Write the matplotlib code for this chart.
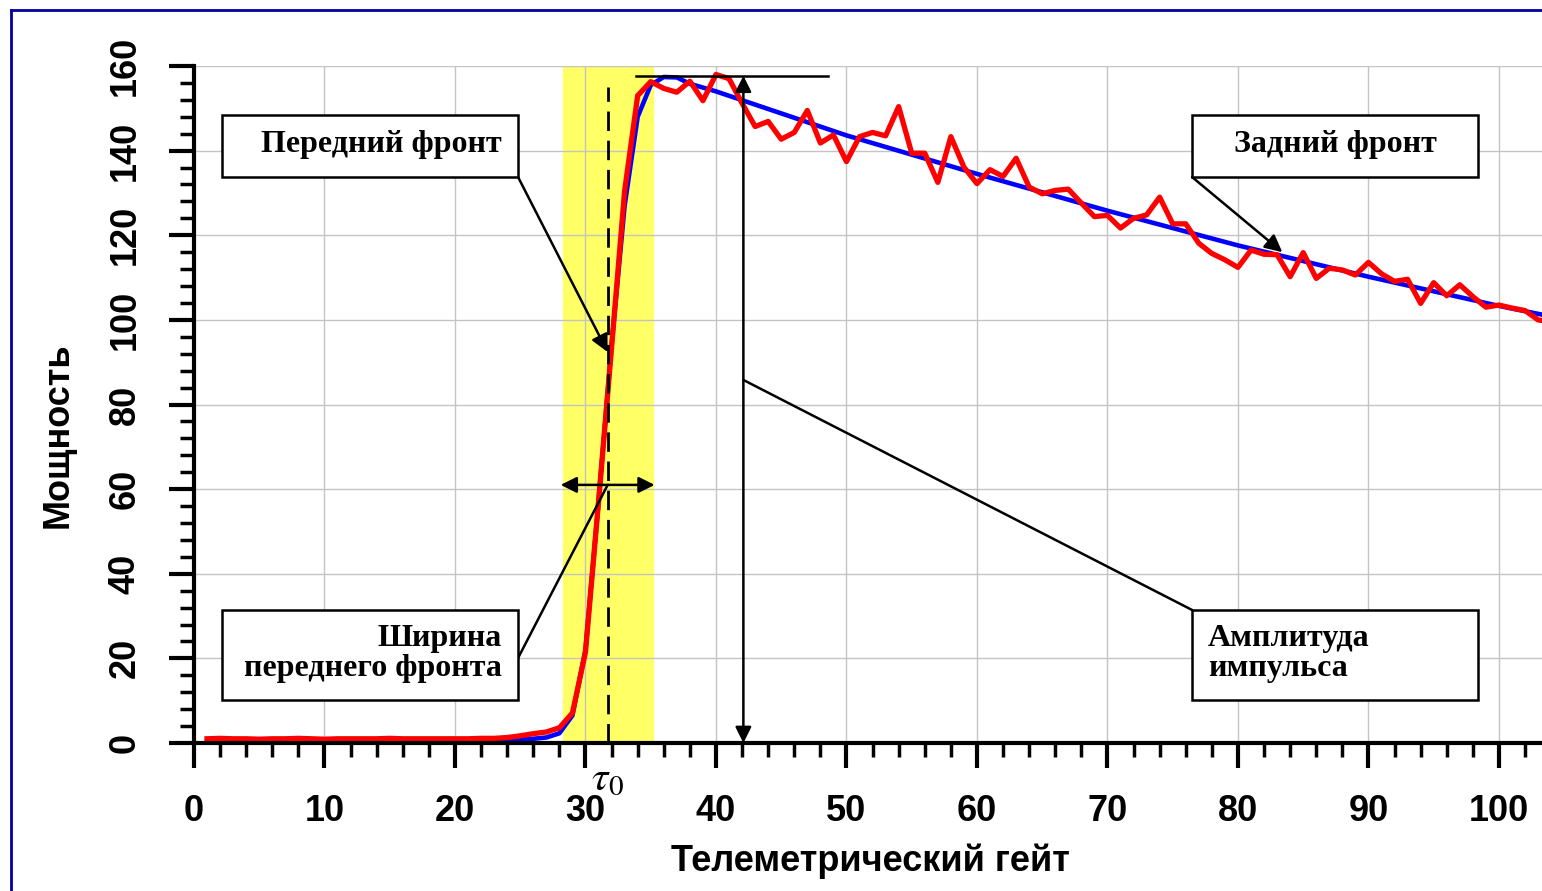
import matplotlib.pyplot as plt
from matplotlib.patches import Rectangle
from matplotlib.lines import Line2D
from matplotlib.ticker import MultipleLocator

# measured pulse (red), gates 1..104
gates = list(range(1, 105))
power = [1.0, 1.1, 1.0, 1.0, 0.9, 1.0, 1.0, 1.1, 1.0, 0.9,
         1.0, 1.0, 1.0, 1.0, 1.1, 1.0, 1.0, 1.0, 1.0, 1.0,
         1.0, 1.1, 1.1, 1.3, 1.7, 2.2, 2.6, 3.6, 7.1, 21.5,
         57.0, 93.5, 130.5, 153.0, 156.3, 154.7, 153.8, 156.4, 151.8, 158.0,
         157.0, 151.2, 145.7, 146.9, 142.7, 144.3, 149.5, 141.8, 143.7, 137.4,
         143.3, 144.3, 143.5, 150.4, 139.4, 139.4, 132.5, 143.3, 136.1, 132.2,
         135.5, 133.9, 138.2, 131.4, 129.8, 130.6, 130.9, 127.6, 124.4, 124.7,
         121.7, 124.0, 124.8, 129.0, 122.7, 122.7, 118.1, 115.7, 114.2, 112.4,
         116.5, 115.5, 115.4, 110.2, 115.9, 109.8, 112.2, 111.8, 110.6, 113.6,
         110.9, 109.1, 109.6, 103.9, 108.8, 105.7, 108.3, 105.5, 103.0, 103.5,
         102.8, 102.2, 100.0, 99.5]

# model pulse (blue)
model_x = [1, 23, 24, 25, 26, 27, 28, 29, 30, 31, 32, 33, 34, 35, 36, 37, 38,
           40, 50, 60, 70, 80, 90, 100, 104]
model_y = [0.5, 0.5, 0.6, 0.8, 1.0, 1.3, 2.3, 6.5, 22.0, 57.0, 94.0, 127.0,
           148.0, 155.5, 157.4, 157.3, 155.8, 154.0, 143.6, 134.5, 125.8,
           117.6, 110.2, 103.3, 100.8]

front_band = (28.3, 35.2)
tau0 = 31.7
peak_level = 157.7
amp_x = 42.1
width_y = 61.0

fig = plt.figure(figsize=(15.42, 8.91), dpi=100)
ax = fig.add_axes([194 / 1542, 1 - 743 / 891, 1348 / 1542, 677 / 891])

ax.axvspan(front_band[0], front_band[1], color='#ffff66', zorder=0)
ax.plot(model_x, model_y, color='#0000ff', lw=3.3, zorder=3)
ax.plot(gates, power, color='#ff0000', lw=3.8, zorder=4)

ax.set_xlim(0, 103.3)
ax.set_ylim(0, 160)
ax.xaxis.set_major_locator(MultipleLocator(10))
ax.xaxis.set_minor_locator(MultipleLocator(2))
ax.yaxis.set_major_locator(MultipleLocator(20))
ax.yaxis.set_minor_locator(MultipleLocator(4))
ax.grid(True, which='major', color='#c4c4c4', lw=1.0, zorder=1)
ax.set_axisbelow(True)

for s in ['top', 'right']:
    ax.spines[s].set_visible(False)
for s in ['left', 'bottom']:
    ax.spines[s].set_linewidth(3)
    ax.spines[s].set_zorder(6)

ax.tick_params(which='major', direction='out', length=18, width=3, pad=19)
ax.tick_params(which='minor', direction='out', length=10, width=2.5)
ax.tick_params(axis='y', labelrotation=90)
for lab in ax.get_xticklabels() + ax.get_yticklabels():
    lab.set_fontfamily('Liberation Sans')
    lab.set_fontweight('bold')
    lab.set_fontsize(26)
for lab in ax.get_yticklabels():
    lab.set_verticalalignment('center')

ax.set_xlabel('Телеметрический гейт', fontfamily='Liberation Sans',
              fontweight='bold', fontsize=26)
ax.set_ylabel('Мощность', fontfamily='Liberation Sans',
              fontweight='bold', fontsize=26)
ax.xaxis.set_label_coords(0.5015, -0.148)
ax.yaxis.set_label_coords(-0.088, 0.455)

# front markers
ax.plot([tau0, tau0], [0, 155], color='black', lw=2.0, ls=(0, (7, 3.5)), zorder=5)
ax.annotate('', xy=(front_band[0] - 0.2, width_y), xytext=(front_band[1] + 0.1, width_y),
            arrowprops=dict(arrowstyle='<|-|>', color='black', lw=1.8,
                            mutation_scale=24, shrinkA=0, shrinkB=0), zorder=6)
ax.plot([33.9, 48.6], [peak_level, peak_level], color='black', lw=1.8, zorder=5)
ax.annotate('', xy=(amp_x, 0), xytext=(amp_x, peak_level),
            arrowprops=dict(arrowstyle='<|-|>', color='black', lw=1.8,
                            mutation_scale=24, shrinkA=0, shrinkB=0), zorder=6)
ax.text(tau0, -8, r'$\tau_{\mathit{0}}$', fontsize=30, ha='center', va='center',
        math_fontfamily='stix')

# callout boxes (axes fraction)
tf = ax.transAxes
boxes = [(0.0208, 0.836, 0.2196, 0.092), (0.0208, 0.0635, 0.2196, 0.133),
         (0.7404, 0.836, 0.2121, 0.092), (0.7404, 0.0635, 0.2121, 0.133)]
for bx, by, bw, bh in boxes:
    ax.add_patch(Rectangle((bx, by), bw, bh, transform=tf, facecolor='white',
                           edgecolor='black', lw=1.8, zorder=7, clip_on=False))

serif = dict(fontfamily='Liberation Serif', fontweight='bold', fontsize=23,
             zorder=8, transform=tf)
ax.text(0.1389, 0.884, 'Передний фронт', ha='center', va='center', **serif)
ax.text(0.2284, 0.155, 'Ширина', ha='right', va='center', **serif)
ax.text(0.2284, 0.110, 'переднего фронта', ha='right', va='center', **serif)
ax.text(0.8464, 0.884, 'Задний фронт', ha='center', va='center', **serif)
ax.text(0.7522, 0.155, 'Амплитуда', ha='left', va='center', **serif)
ax.text(0.7522, 0.110, 'импульса', ha='left', va='center', **serif)

# leader lines
arrow_kw = dict(arrowstyle='-|>', color='black', lw=1.8, mutation_scale=26,
                shrinkA=0, shrinkB=0)
line_kw = dict(arrowstyle='-', color='black', lw=1.8, shrinkA=0, shrinkB=0)
ax.annotate('', xy=(tau0, 92.4), xytext=(0.2404, 0.836), textcoords='axes fraction',
            arrowprops=arrow_kw, zorder=6)
ax.annotate('', xy=(tau0, width_y), xytext=(0.2404, 0.1255), textcoords='axes fraction',
            arrowprops=line_kw, zorder=6)
ax.annotate('', xy=(83.4, 116.0), xytext=(0.7404, 0.836), textcoords='axes fraction',
            arrowprops=arrow_kw, zorder=6)
ax.annotate('', xy=(amp_x, 85.8), xytext=(0.7404, 0.1965), textcoords='axes fraction',
            arrowprops=line_kw, zorder=6)

# outer frame
fig.add_artist(Line2D([11 / 1542, 11 / 1542], [0, 1 - 10 / 891], color='#0000a0', lw=2))
fig.add_artist(Line2D([11 / 1542, 1], [1 - 10 / 891, 1 - 10 / 891], color='#0000a0', lw=2))

fig.savefig('out.png', dpi=100)
